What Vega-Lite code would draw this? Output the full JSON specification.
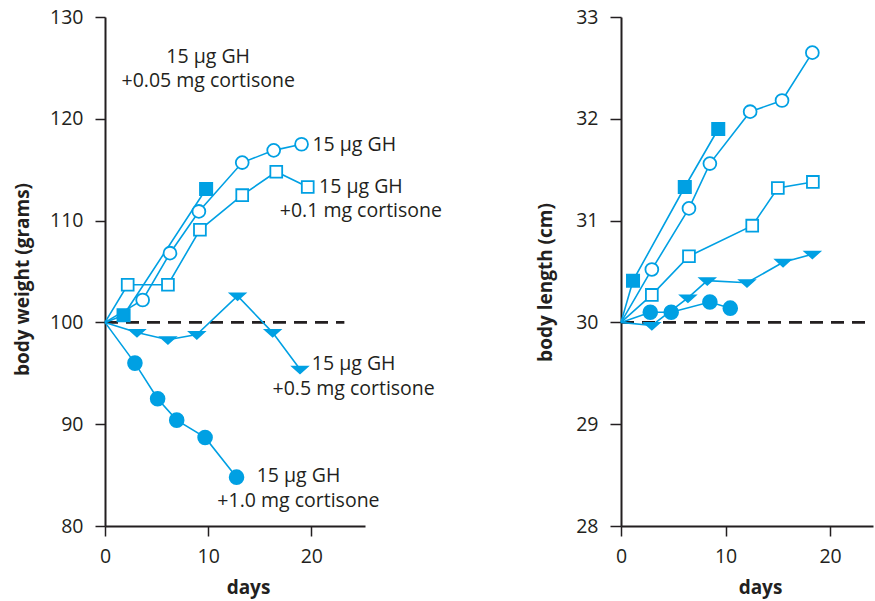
{
  "$schema": "https://vega.github.io/schema/vega-lite/v6.json",
  "background": "white",
  "padding": {"left": 13, "top": 7, "right": 2, "bottom": 6},
  "spacing": 256,
  "bounds": "flush",
  "config": {
    "view": {"stroke": null},
    "font": "Open Sans",
    "axis": {
      "grid": false,
      "domainColor": "#231f20",
      "domainWidth": 2,
      "tickColor": "#231f20",
      "tickWidth": 1.5,
      "tickSize": 10,
      "labelFont": "Open Sans",
      "labelFontSize": 19.5,
      "labelColor": "#231f20",
      "labelFlush": false,
      "labelOverlap": false,
      "labelPadding": 11,
      "titleFont": "Open Sans",
      "titleFontSize": 19,
      "titleFontWeight": "bold",
      "titleColor": "#231f20"
    },
    "axisY": {"labelPadding": 12}
  },
  "datasets": {
    "weight": [
      {"series": "a", "day": 0, "value": 100},
      {"series": "a", "day": 1.8, "value": 100.7},
      {"series": "a", "day": 9.8, "value": 113.1},
      {"series": "b", "day": 0, "value": 100},
      {"series": "b", "day": 3.65, "value": 102.2},
      {"series": "b", "day": 6.3, "value": 106.8},
      {"series": "b", "day": 9.1, "value": 110.9},
      {"series": "b", "day": 13.3, "value": 115.7},
      {"series": "b", "day": 16.35, "value": 116.9},
      {"series": "b", "day": 19.05, "value": 117.5},
      {"series": "c", "day": 0, "value": 100},
      {"series": "c", "day": 2.2, "value": 103.7},
      {"series": "c", "day": 6.1, "value": 103.7},
      {"series": "c", "day": 9.2, "value": 109.1},
      {"series": "c", "day": 13.3, "value": 112.5},
      {"series": "c", "day": 16.6, "value": 114.8},
      {"series": "c", "day": 19.65, "value": 113.3},
      {"series": "d", "day": 0, "value": 100},
      {"series": "d", "day": 3.1, "value": 99.0},
      {"series": "d", "day": 6.1, "value": 98.3},
      {"series": "d", "day": 8.9, "value": 98.8},
      {"series": "d", "day": 12.85, "value": 102.6},
      {"series": "d", "day": 16.25, "value": 99.0},
      {"series": "d", "day": 18.9, "value": 95.4},
      {"series": "e", "day": 0, "value": 100},
      {"series": "e", "day": 2.9, "value": 96.0},
      {"series": "e", "day": 5.1, "value": 92.5},
      {"series": "e", "day": 6.95, "value": 90.4},
      {"series": "e", "day": 9.7, "value": 88.7},
      {"series": "e", "day": 12.75, "value": 84.8}
    ],
    "length": [
      {"series": "a", "day": 0, "value": 30},
      {"series": "a", "day": 1.15, "value": 30.41},
      {"series": "a", "day": 6.1, "value": 31.33},
      {"series": "a", "day": 9.3, "value": 31.9},
      {"series": "b", "day": 0, "value": 30},
      {"series": "b", "day": 2.95, "value": 30.52},
      {"series": "b", "day": 6.5, "value": 31.12},
      {"series": "b", "day": 8.5, "value": 31.56},
      {"series": "b", "day": 12.35, "value": 32.07},
      {"series": "b", "day": 15.4, "value": 32.18},
      {"series": "b", "day": 18.3, "value": 32.65},
      {"series": "c", "day": 0, "value": 30},
      {"series": "c", "day": 2.95, "value": 30.27},
      {"series": "c", "day": 6.5, "value": 30.65},
      {"series": "c", "day": 12.55, "value": 30.95},
      {"series": "c", "day": 15.0, "value": 31.32},
      {"series": "c", "day": 18.35, "value": 31.38},
      {"series": "d", "day": 0, "value": 30},
      {"series": "d", "day": 2.95, "value": 29.97},
      {"series": "d", "day": 6.4, "value": 30.24},
      {"series": "d", "day": 8.25, "value": 30.41},
      {"series": "d", "day": 12.05, "value": 30.39},
      {"series": "d", "day": 15.5, "value": 30.59},
      {"series": "d", "day": 18.3, "value": 30.67},
      {"series": "e", "day": 0, "value": 30},
      {"series": "e", "day": 2.8, "value": 30.1},
      {"series": "e", "day": 4.8, "value": 30.1},
      {"series": "e", "day": 8.5, "value": 30.2},
      {"series": "e", "day": 10.45, "value": 30.14}
    ],
    "weightRef": [{"day": 0, "day2": 23.2, "value": 100}],
    "lengthRef": [{"day": 0, "day2": 24.1, "value": 30}],
    "labelsCenter": [
      {"day": 10.0, "value": 126.1, "text": "15 µg GH"},
      {"day": 10.0, "value": 123.7, "text": "+0.05 mg cortisone"},
      {"day": 24.8, "value": 113.3, "text": "15 µg GH"},
      {"day": 24.8, "value": 110.9, "text": "+0.1 mg cortisone"},
      {"day": 24.1, "value": 95.9, "text": "15 µg GH"},
      {"day": 24.1, "value": 93.5, "text": "+0.5 mg cortisone"},
      {"day": 18.75, "value": 84.9, "text": "15 µg GH"},
      {"day": 18.75, "value": 82.5, "text": "+1.0 mg cortisone"}
    ],
    "labelsLeft": [
      {"day": 20.1, "value": 117.4, "text": "15 µg GH"}
    ]
  },
  "hconcat": [
    {
      "width": 260,
      "height": 509,
      "encoding": {
        "x": {
          "field": "day", "type": "quantitative",
          "scale": {"domain": [0, 25.2], "nice": false, "zero": false},
          "axis": {"values": [0, 10, 20], "title": "days", "titleX": 143, "titleY": 61, "titleAlign": "center", "titleBaseline": "middle"}
        },
        "y": {
          "field": "value", "type": "quantitative",
          "scale": {"domain": [80, 130], "nice": false, "zero": false},
          "axis": {"values": [80, 90, 100, 110, 120, 130], "title": "body weight (grams)", "titleX": -83, "titleY": 262, "titleAngle": 270, "titleAlign": "center", "titleBaseline": "middle"}
        }
      },
      "layer": [
        {
          "data": {"name": "weightRef"},
          "mark": {"type": "rule", "color": "#231f20", "strokeWidth": 2.6, "strokeDash": [13, 8]},
          "encoding": {"x2": {"field": "day2"}}
        },
        {
          "data": {"name": "weight"},
          "mark": {"type": "line", "color": "#00a0e3", "strokeWidth": 1.6},
          "encoding": {"detail": {"field": "series", "type": "nominal"}}
        },
        {
          "data": {"name": "weight"},
          "transform": [{"filter": "datum.day > 0"}],
          "mark": {"type": "point", "filled": true, "opacity": 1, "strokeWidth": 1.8, "stroke": "#00a0e3"},
          "encoding": {
            "shape": {"field": "series", "type": "nominal", "legend": null,
              "scale": {"domain": ["a", "b", "c", "d", "e"], "range": ["square", "circle", "square", "M-1,-0.35L1,-0.35L0,0.55Z", "circle"]}},
            "fill": {"field": "series", "type": "nominal", "legend": null,
              "scale": {"domain": ["a", "b", "c", "d", "e"], "range": ["#00a0e3", "white", "white", "#00a0e3", "#00a0e3"]}},
            "size": {"field": "series", "type": "nominal", "legend": null,
              "scale": {"type": "ordinal", "domain": ["a", "b", "c", "d", "e"], "range": [150, 165, 140, 220, 190]}}
          }
        },
        {
          "data": {"name": "labelsCenter"},
          "mark": {"type": "text", "align": "center", "baseline": "middle", "font": "Open Sans", "fontSize": 19.5, "color": "#231f20"},
          "encoding": {"text": {"field": "text"}}
        },
        {
          "data": {"name": "labelsLeft"},
          "mark": {"type": "text", "align": "left", "baseline": "middle", "font": "Open Sans", "fontSize": 19.5, "color": "#231f20"},
          "encoding": {"text": {"field": "text"}}
        }
      ]
    },
    {
      "width": 252,
      "height": 509,
      "encoding": {
        "x": {
          "field": "day", "type": "quantitative",
          "scale": {"domain": [0, 24.1], "nice": false, "zero": false},
          "axis": {"values": [0, 10, 20], "title": "days", "titleX": 139, "titleY": 61, "titleAlign": "center", "titleBaseline": "middle"}
        },
        "y": {
          "field": "value", "type": "quantitative",
          "scale": {"domain": [28, 33], "nice": false, "zero": false},
          "axis": {"values": [28, 29, 30, 31, 32, 33], "title": "body length (cm)", "titleX": -76, "titleY": 265, "titleAngle": 270, "titleAlign": "center", "titleBaseline": "middle", "tickSize": 11}
        }
      },
      "layer": [
        {
          "data": {"name": "lengthRef"},
          "mark": {"type": "rule", "color": "#231f20", "strokeWidth": 2.6, "strokeDash": [13, 8]},
          "encoding": {"x2": {"field": "day2"}}
        },
        {
          "data": {"name": "length"},
          "mark": {"type": "line", "color": "#00a0e3", "strokeWidth": 1.6},
          "encoding": {"detail": {"field": "series", "type": "nominal"}}
        },
        {
          "data": {"name": "length"},
          "transform": [{"filter": "datum.day > 0"}],
          "mark": {"type": "point", "filled": true, "opacity": 1, "strokeWidth": 1.8, "stroke": "#00a0e3"},
          "encoding": {
            "shape": {"field": "series", "type": "nominal", "legend": null,
              "scale": {"domain": ["a", "b", "c", "d", "e"], "range": ["square", "circle", "square", "M-1,-0.35L1,-0.35L0,0.55Z", "circle"]}},
            "fill": {"field": "series", "type": "nominal", "legend": null,
              "scale": {"domain": ["a", "b", "c", "d", "e"], "range": ["#00a0e3", "white", "white", "#00a0e3", "#00a0e3"]}},
            "size": {"field": "series", "type": "nominal", "legend": null,
              "scale": {"type": "ordinal", "domain": ["a", "b", "c", "d", "e"], "range": [150, 165, 140, 190, 190]}}
          }
        }
      ]
    }
  ]
}
